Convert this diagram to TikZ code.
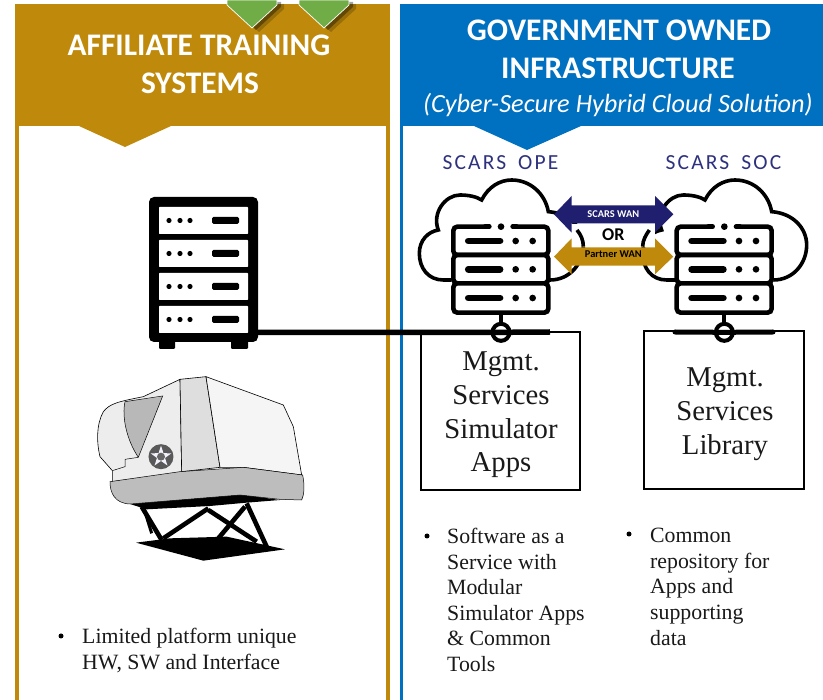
\documentclass[tikz,border=0pt]{standalone}
\usepackage{fontspec}
\setmainfont{Liberation Serif}
\newfontfamily\hdr{Carlito}
\newfontfamily\spaced[LetterSpace=10]{Carlito}
\usetikzlibrary{shapes.geometric}
\definecolor{gold}{RGB}{191,138,12}
\definecolor{blu}{RGB}{0,112,192}
\definecolor{grn}{RGB}{112,173,71}
\definecolor{navy}{RGB}{32,30,110}
\definecolor{scars}{RGB}{46,49,126}
\tikzset{
 hdrtext/.style={font=\hdr\bfseries\fontsize{31.4}{33}\selectfont,text=white,anchor=base,inner sep=0},
 mgmt/.style={font=\fontsize{28.7}{33.6}\selectfont,align=center,anchor=north,inner sep=0,text=black!90},
 bul/.style={font=\fontsize{21.8}{25.6}\selectfont,align=left,anchor=north west,inner sep=0,text=black!90},
 dot/.style={circle,fill=black,inner sep=0,minimum size=5pt},
 box/.style={draw=black,line width=2pt,fill=white,inner sep=0},
 link/.style={line width=5.5pt,black},
 srv/.style={draw=black,line width=4.6pt,fill=white,rounded corners=4pt},
 bar/.style={line width=6.8pt,line cap=round,black},
 hub/.style={circle,draw=black,line width=4pt,fill=white,minimum size=17pt,inner sep=0},
 wan/.style={font=\hdr\bfseries\fontsize{10.4}{12}\selectfont,inner sep=0},
 chev/.style={fill=grn,draw=white,line width=.7pt},
}
\newcommand{\chevshape}[1]{(#1-25,0) -- (#1+25,0) -- (#1+25,5) -- (#1,28) -- (#1-25,5) -- cycle}
\newcommand{\unitbars}[1]{%
  \draw[bar] (205,#1) -- (300,#1);
  \fill (347,#1) circle (10);
  \fill (398,#1) circle (10);}
\newcommand{\cloudsrv}[2]{%
 \begin{scope}[shift={(#1pt,-130pt)},x=0.33333pt,y=-0.33333pt]
  \draw[line width=3.6pt,fill=white] (155,450) -- (130,450)
    .. controls (85,450) and (58,415) .. (58,370)
    .. controls (58,330) and (85,305) .. (115,300)
    .. controls (95,250) and (135,195) .. (180,195)
    .. controls (205,195) and (230,200) .. (245,210)
    .. controls (265,170) and (300,150) .. (335,150)
    .. controls (390,150) and (435,190) .. (445,245)
    .. controls (510,250) and (550,295) .. (550,345)
    .. controls (550,400) and (510,450) .. (450,450);
  \draw[srv] (160,290) rectangle (445,375);
  \draw[srv] (160,375) rectangle (445,460);
  \draw[srv] (160,460) rectangle (445,548);
  \fill[white] (268,280) rectangle (338,300);
  \draw[line width=4.6pt,line cap=round] (255,290) -- (268,290) (338,290) -- (350,290);
  \fill (303,290) circle (10);
  \unitbars{333}\unitbars{418}\unitbars{504}
  \draw[line width=4pt] (303,548) -- (303,585);
  \node[hub] (#2) at (303,607) {};
 \end{scope}}
\begin{document}
\begin{tikzpicture}[x=1pt,y=-1pt]
\useasboundingbox (0,0) rectangle (823,700);
\fill[white] (0,0) rectangle (823,700);
% gold panel
\fill[gold] (15,4) rectangle (390,700);
\fill[white] (19,126) rectangle (386,700);
\fill[gold] (79,126) -- (125,147) -- (171,126) -- cycle;
% blue panel
\fill[blu] (400,4) rectangle (823,126);
\fill[blu] (400,4) rectangle (403,700);
\fill[blu] (474,126) -- (527,150) -- (581,126) -- cycle;
% green chevrons
\foreach \c in {252,324}{
 \begin{scope}[shift={(7pt,-4pt)}]\fill[black,opacity=.2] \chevshape{\c};\end{scope}
 \begin{scope}[shift={(4pt,-2pt)}]\fill[black,opacity=.35] \chevshape{\c};\end{scope}
 \draw[chev] \chevshape{\c};
}
% headers
\node[hdrtext] (h1) at (199,56) {AFFILIATE TRAINING};
\node[hdrtext] (h2) at (200,94) {SYSTEMS};
\node[hdrtext] (h3) at (619,40.5) {GOVERNMENT OWNED};
\node[hdrtext] (h4) at (618,78.5) {INFRASTRUCTURE};
\node[hdrtext,font=\hdr\itshape\fontsize{26.3}{28}\selectfont] (h5) at (618,112.5) {(Cyber-Secure Hybrid Cloud Solution)};
\node[font=\spaced\fontsize{21.5}{23}\selectfont,text=scars,anchor=base,inner sep=0] (ope) at (500.5,170) {SCARS\hspace{5pt} OPE};
\node[font=\spaced\fontsize{21.5}{23}\selectfont,text=scars,anchor=base,inner sep=0] (soc) at (723.5,170) {SCARS\hspace{5pt} SOC};
% rack
\node[fill=black,rounded corners=5pt,minimum width=109pt,minimum height=145pt,inner sep=0] (rackA) at (203.5,269.5) {};
\fill[rounded corners=1pt] (159,338) rectangle (175,349);
\fill[rounded corners=1pt] (231,338) rectangle (248,349);
\foreach \y in {207,240,273,306}{
 \fill[white,rounded corners=.7pt] (159,\y) rectangle (248,\y+27);
 \foreach \x in {169,180,190}{\fill (\x,\y+13.5) circle (2.6);}
 \fill[rounded corners=1.5pt] (212,\y+10) rectangle (239,\y+17);
}
% mgmt boxes
\node[box,minimum width=159pt,minimum height=158pt] (boxA) at (500.5,411) {};
\node[box,minimum width=160pt,minimum height=158pt] (boxB) at (724,410) {};
% clouds
\cloudsrv{400}{hubA}
\cloudsrv{623.33}{hubB}
% connectors
\coordinate (endA) at (550,332);
\coordinate (startB) at (675,332);
\coordinate (endB) at (773,332);
\draw[link] (rackA.east |- hubA) -- (hubA.center) -- (endA);
\draw[line width=5pt,line cap=round] (startB) -- (hubB.center) -- (endB);
% WAN arrows
\begin{scope}[shift={(400pt,-130pt)},x=0.33333pt,y=-0.33333pt]
 \fill[navy] (462,253) -- (515,198) -- (515,226) -- (765,226) -- (765,198) -- (820,253) -- (765,308) -- (765,280) -- (515,280) -- (515,308) -- cycle;
 \fill[gold] (462,380) -- (515,325) -- (515,352) -- (765,352) -- (765,325) -- (820,380) -- (765,433) -- (765,407) -- (515,407) -- (515,433) -- cycle;
 \fill[white] (515,281) rectangle (765,351);
 \draw[line width=3.6pt] (531,300) .. controls (543,315) and (550,330) .. (550,350);
 \draw[line width=3.6pt] (748,300) .. controls (738,315) and (728,330) .. (728,350);
 \node[wan,text=white] (wan1) at (640,251) {SCARS WAN};
 \node[wan,text=black] (wan2) at (640,374) {Partner WAN};
 \node[font=\hdr\bfseries\fontsize{18}{19}\selectfont,inner sep=0] (orn) at (640,315) {OR};
\end{scope}
% mgmt text
\node[mgmt] (ta) at (501,352) {Mgmt.\\Services\\Simulator\\Apps};
\node[mgmt] (tb) at (725,368) {Mgmt.\\Services\\Library};
% bullets
\node[dot] (b1) at (427,536) {};
\node[bul] (t1) at (447,528) {Software as a\\Service with\\Modular\\Simulator Apps\\\& Common\\Tools};
\node[dot] (b2) at (629,534) {};
\node[bul] (t2) at (650,528) {Common\\repository for\\Apps and\\supporting\\data};
\node[dot] (b3) at (61,636) {};
\node[bul] (t3) at (82,628) {Limited platform unique\\HW, SW and Interface};
% simulator
\begin{scope}[shift={(80pt,-360pt)},x=0.33333pt,y=-0.33333pt]
 \fill (168,548) -- (270,535) -- (440,530) -- (615,568) -- (370,602) -- cycle;
 \draw[line width=4.6pt] (185,440) -- (245,540);
 \draw[line width=4.6pt] (250,535) -- (385,445);
 \draw[line width=4.6pt] (385,450) -- (530,545);
 \draw[line width=4.6pt] (495,440) -- (415,535);
 \draw[line width=4.6pt] (500,430) -- (560,560);
 \draw[line width=3pt] (190,440) -- (215,520);
 \fill (150,432) -- (480,403) -- (600,420) -- (500,428) -- (390,438) -- (200,448) -- cycle;
 \draw[line width=.6pt,fill=black!7] (97,365) -- (97,332) -- (60,290) .. controls (50,250) and (48,195) .. (70,155) .. controls (90,130) and (115,125) .. (190,110) -- (300,58) -- (305,340) -- cycle;
 \draw[line width=.6pt,fill=black!13] (300,58) -- (378,50) -- (420,322) -- (305,335) -- cycle;
 \draw[line width=.6pt,fill=black!4] (378,50) -- (610,135) -- (640,200) -- (665,345) -- (490,322) -- (420,322) -- cycle;
 \fill[black!28] (135,125) -- (248,110) -- (175,290) .. controls (140,240) and (125,170) .. (135,125) -- cycle;
 \draw[line width=.5pt] (135,125) .. controls (125,170) and (140,240) .. (175,292) (135,125) -- (248,108) -- (175,292);
 \draw[line width=.5pt] (97,332) -- (135,320) -- (135,298) -- (175,292);
 \draw[line width=.5pt,fill=black!26] (90,365) -- (300,335) -- (490,322) -- (668,345) .. controls (675,380) and (672,405) .. (665,420) -- (600,418) -- (480,405) -- (150,432) .. controls (105,430) and (90,400) .. (90,365) -- cycle;
 \node[circle,fill=black!65,minimum size=25pt,inner sep=0] (emb) at (243,290) {};
 \node[star,star points=5,star point ratio=2.6,fill=black!8!blue!5,minimum size=22pt,inner sep=0] (st) at (243,290) {};
 \node[circle,fill=black!60,minimum size=8pt,inner sep=0] (emc) at (243,290) {};
\end{scope}
\end{tikzpicture}
\end{document}
